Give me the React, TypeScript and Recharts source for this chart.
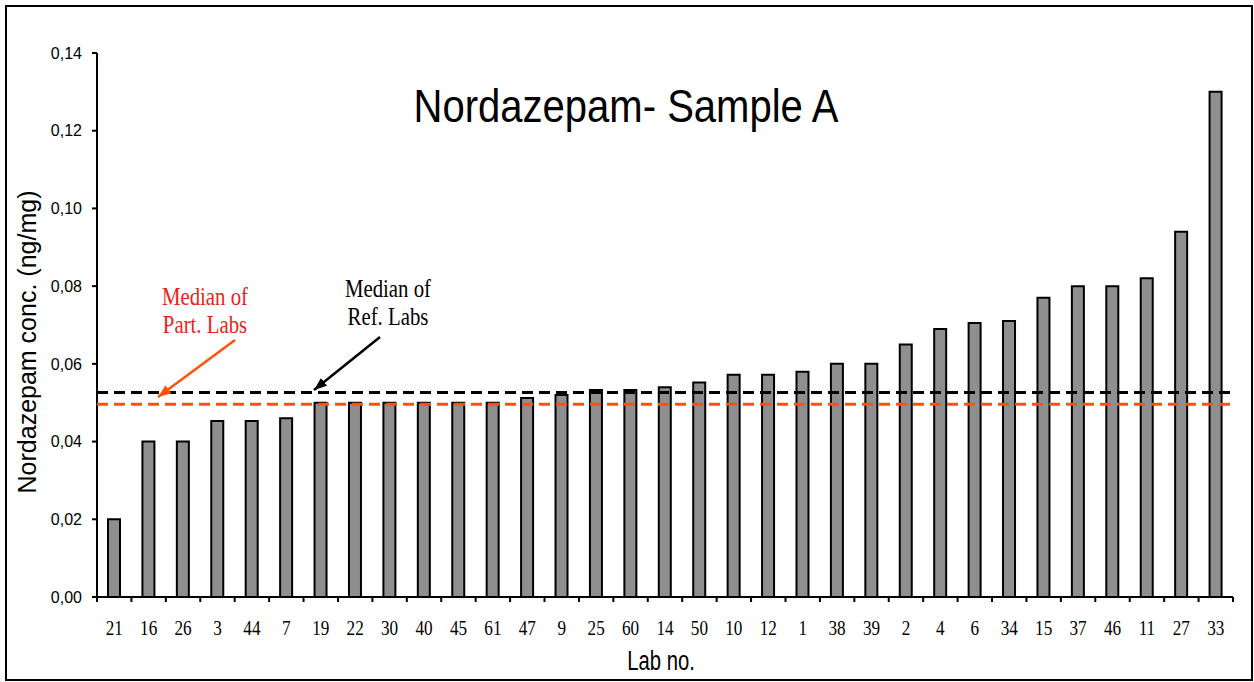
import React from "react";
import { Bar, BarChart, ReferenceLine, XAxis, YAxis } from "recharts";

const W = 1254;
const H = 682;
const PLOT_LEFT = 97;
const PLOT_RIGHT = 1233;

const labs = [
  "21", "16", "26", "3", "44", "7", "19", "22", "30", "40", "45", "61", "47", "9", "25", "60", "14",
  "50", "10", "12", "1", "38", "39", "2", "4", "6", "34", "15", "37", "46", "11", "27", "33",
];
const conc = [
  0.02, 0.04, 0.04, 0.0453, 0.0453, 0.046, 0.05, 0.05, 0.05, 0.05, 0.05, 0.05, 0.0512, 0.052, 0.0533,
  0.0533, 0.054, 0.0552, 0.0572, 0.0572, 0.058, 0.06, 0.06, 0.065, 0.069, 0.0705, 0.071, 0.077, 0.08,
  0.08, 0.082, 0.094, 0.13,
];
const yTicks = [0, 0.02, 0.04, 0.06, 0.08, 0.1, 0.12, 0.14];
const MEDIAN_REF = 0.0526;
const MEDIAN_PART = 0.0496;

const data = labs.map((lab, i) => ({ lab, conc: conc[i] }));

const BAND = (PLOT_RIGHT - PLOT_LEFT) / labs.length;
const ORANGE = "#FF5208";
const RED = "#E8231C";
const SANS = "'Liberation Sans', Arial, sans-serif";
const SERIF = "'Liberation Serif', 'Times New Roman', serif";

const comma = (v: number) => v.toFixed(2).replace(".", ",");

// Excel-style ticks: marks on the category boundaries, label in the middle
function LabTick(props: any) {
  const { x, y, payload, index } = props;
  const half = BAND / 2;
  return (
    <g>
      <line x1={x - half} x2={x - half} y1={y - 5} y2={y} stroke="#000" strokeWidth={2} />
      {index === labs.length - 1 && (
        <line x1={x + half} x2={x + half} y1={y - 5} y2={y} stroke="#000" strokeWidth={2} />
      )}
      <text
        transform={`translate(${x},${y + 33}) scale(0.78,1)`}
        textAnchor="middle"
        fontFamily={SERIF}
        fontSize={22}
        fill="#000"
      >
        {payload.value}
      </text>
    </g>
  );
}

function Squeezed({ x, y, sx, children, ...rest }: any) {
  return (
    <text transform={`translate(${x},${y}) scale(${sx},1)`} textAnchor="middle" {...rest}>
      {children}
    </text>
  );
}

export default function App() {
  return (
    <div style={{ position: "absolute", left: 0, top: 0, width: W, height: H, background: "#fff" }}>
      <BarChart
        width={W}
        height={H}
        data={data}
        margin={{ top: 53, right: W - PLOT_RIGHT, bottom: 0, left: 37 }}
      >
        <XAxis
          dataKey="lab"
          interval={0}
          height={85}
          axisLine={{ stroke: "#000", strokeWidth: 2 }}
          tickLine={false}
          tickSize={5}
          tickMargin={0}
          tick={<LabTick />}
        />
        <YAxis
          width={60}
          domain={[0, 0.14]}
          ticks={yTicks}
          interval={0}
          tickFormatter={comma}
          axisLine={{ stroke: "#000", strokeWidth: 2 }}
          tickLine={{ stroke: "#000", strokeWidth: 2 }}
          tickSize={5}
          tickMargin={10}
          tick={{ fill: "#000", fontFamily: SANS, fontSize: 16 }}
        />
        <Bar
          dataKey="conc"
          barSize={12}
          fill="#8F8F8F"
          stroke="#000"
          strokeWidth={2}
          isAnimationActive={false}
        />
        {/* dashed medians sit on top of the bars */}
        <ReferenceLine y={MEDIAN_REF} stroke="#000" strokeWidth={3} strokeDasharray="11 6" zIndex={1200} />
        <ReferenceLine y={MEDIAN_PART} stroke={ORANGE} strokeWidth={3} strokeDasharray="11 6" zIndex={1200} />
      </BarChart>

      <svg
        width={W}
        height={H}
        style={{ position: "absolute", left: 0, top: 0, pointerEvents: "none" }}
      >
        <defs>
          <marker id="headOrange" markerUnits="userSpaceOnUse" markerWidth={13} markerHeight={10} refX={13} refY={5} orient="auto">
            <path d="M0,0 L13,5 L0,10 z" fill={ORANGE} />
          </marker>
          <marker id="headBlack" markerUnits="userSpaceOnUse" markerWidth={13} markerHeight={10} refX={13} refY={5} orient="auto">
            <path d="M0,0 L13,5 L0,10 z" fill="#000" />
          </marker>
        </defs>
        <rect x={6} y={6} width={1246} height={674} fill="none" stroke="#000" strokeWidth={2} />

        <Squeezed x={626} y={122} sx={0.87} fontFamily={SANS} fontSize={46} fill="#000">
          Nordazepam- Sample A
        </Squeezed>

        <text
          transform="translate(36,342) rotate(-90)"
          textAnchor="middle"
          fontFamily={SANS}
          fontSize={25}
          fill="#000"
        >
          Nordazepam conc. (ng/mg)
        </text>
        <Squeezed x={661} y={670} sx={0.75} fontFamily={SANS} fontSize={27} fill="#000">
          Lab no.
        </Squeezed>

        <Squeezed x={205} y={305} sx={0.8} fontFamily={SERIF} fontSize={26} fill={RED}>
          Median of
        </Squeezed>
        <Squeezed x={205} y={333} sx={0.8} fontFamily={SERIF} fontSize={26} fill={RED}>
          Part. Labs
        </Squeezed>
        <Squeezed x={388} y={297} sx={0.8} fontFamily={SERIF} fontSize={26} fill="#000">
          Median of
        </Squeezed>
        <Squeezed x={388} y={325} sx={0.8} fontFamily={SERIF} fontSize={26} fill="#000">
          Ref. Labs
        </Squeezed>

        <line x1={235} y1={340} x2={158} y2={397} stroke={ORANGE} strokeWidth={2.5} markerEnd="url(#headOrange)" />
        <line x1={380} y1={337} x2={314} y2={390} stroke="#000" strokeWidth={2.5} markerEnd="url(#headBlack)" />
      </svg>
    </div>
  );
}
